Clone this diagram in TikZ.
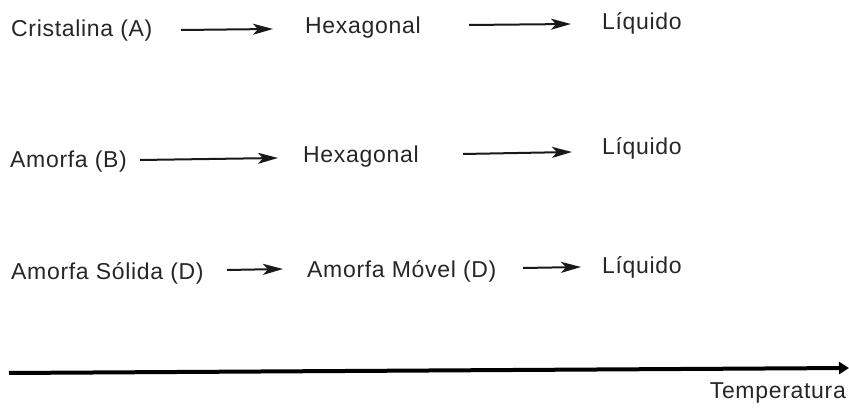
\documentclass[tikz,border=0pt]{standalone}
\usepackage{fontspec}
\setmainfont{Liberation Sans}[LetterSpace=3]
\usetikzlibrary{arrows.meta}
\begin{document}
\begin{tikzpicture}[x=1pt,y=-1pt,
  lbl/.style={anchor=west,inner sep=0pt,font=\fontsize{23}{26}\selectfont,text=black!85},
  conn/.style={line width=2pt,-{Stealth[length=20pt,width=11pt,inset=5pt]}, black!90},
  axisline/.style={line width=4pt,-{Triangle[length=10pt,width=12pt]}}]
\useasboundingbox (0,0) rectangle (849,411);
% row 1
\node[lbl] (a1) at (11,31) {Cristalina (A)};
\node[lbl] (a2) at (305,28) {Hexagonal};
\node[lbl] (a3) at (602,23) {Líquido};
\coordinate (a1e) at (181,30); \coordinate (a1f) at (273,29);
\coordinate (a2e) at (469,25); \coordinate (a2f) at (571,24);
\draw[conn] (a1e) -- (a1f);
\draw[conn] (a2e) -- (a2f);
% row 2
\node[lbl] (b1) at (10,162) {Amorfa (B)};
\node[lbl] (b2) at (303,157) {Hexagonal};
\node[lbl] (b3) at (602,148) {Líquido};
\coordinate (b1e) at (140,160); \coordinate (b1f) at (278,158);
\coordinate (b2e) at (463,154); \coordinate (b2f) at (572,152);
\draw[conn] (b1e) -- (b1f);
\draw[conn] (b2e) -- (b2f);
% row 3
\node[lbl] (c1) at (11,273) {Amorfa Sólida (D)};
\node[lbl] (c2) at (307,271) {Amorfa Móvel (D)};
\node[lbl] (c3) at (602,267) {Líquido};
\coordinate (c1e) at (227,270); \coordinate (c1f) at (283,269);
\coordinate (c2e) at (523,268); \coordinate (c2f) at (581,267);
\draw[conn] (c1e) -- (c1f);
\draw[conn] (c2e) -- (c2f);
% axis
\coordinate (t0) at (9,373);
\coordinate (t1) at (849,368);
\draw[axisline] (t0) -- (t1);
\node[lbl,anchor=east] (temp) at (846,393) {Temperatura};
\end{tikzpicture}
\end{document}
